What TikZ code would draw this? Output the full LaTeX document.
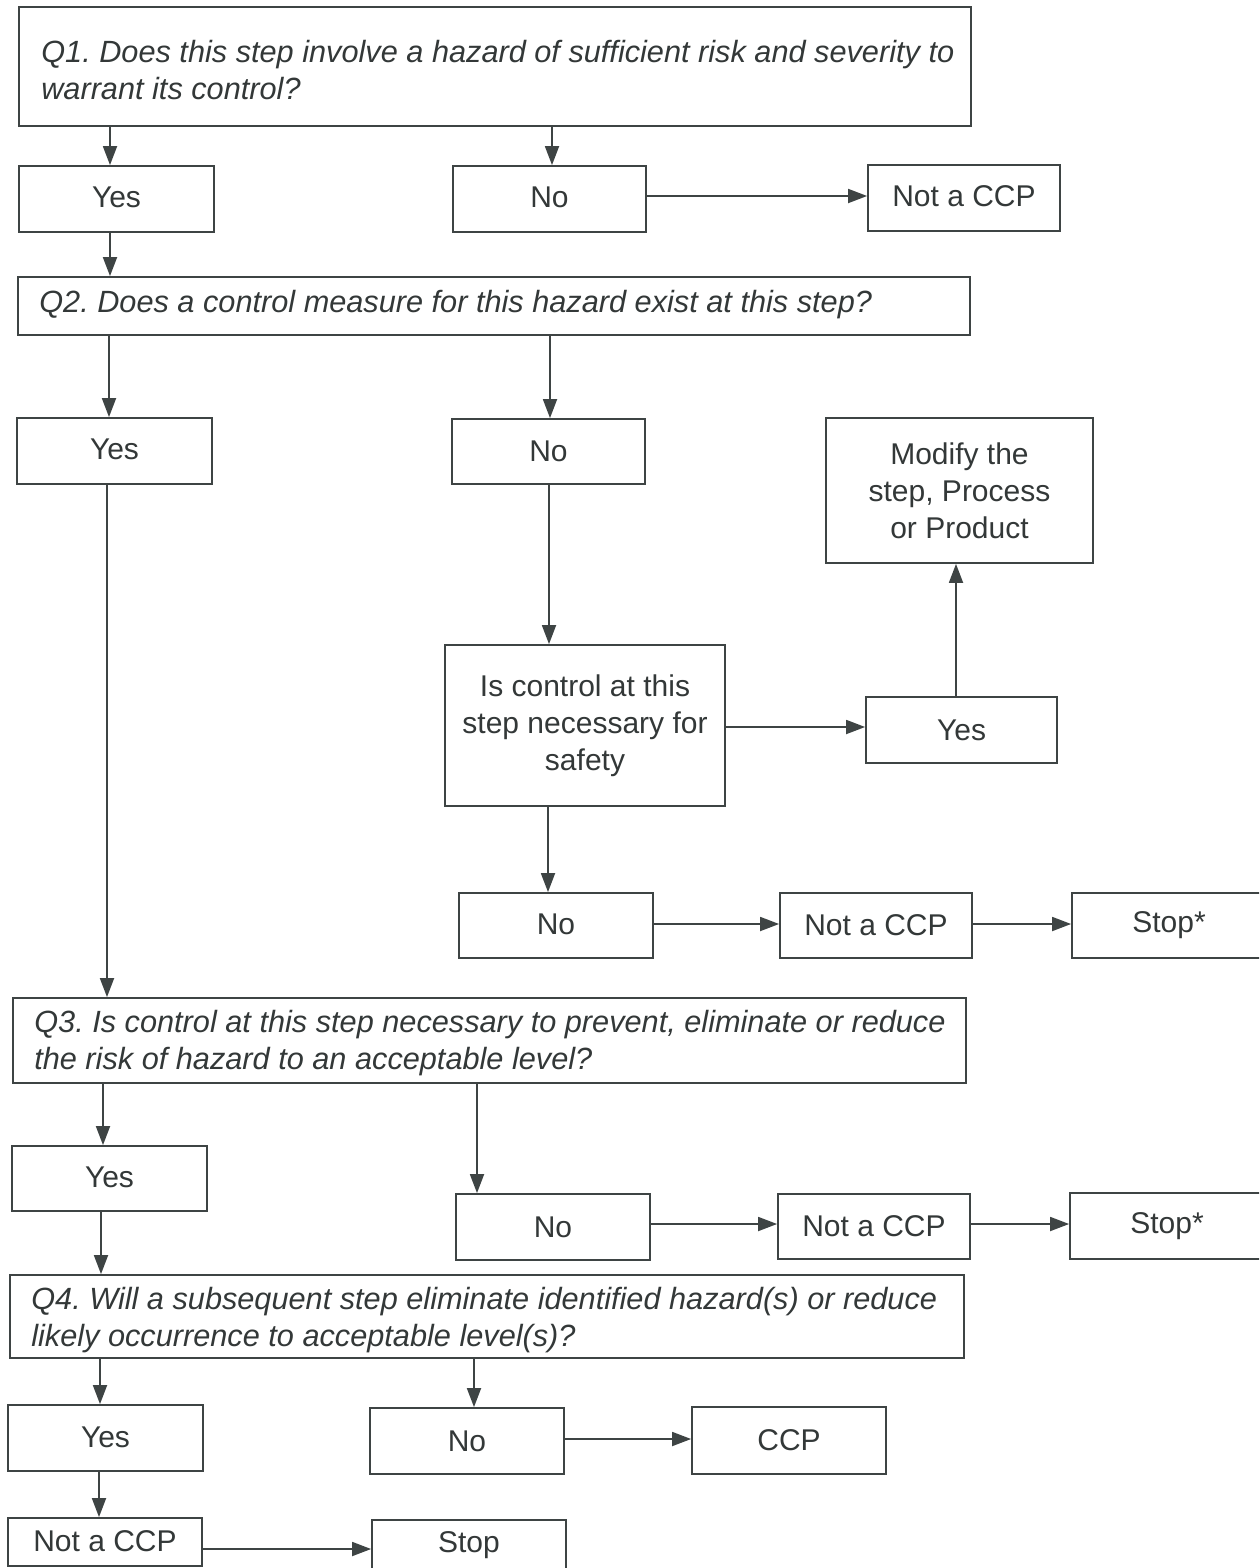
\documentclass[tikz,border=0pt]{standalone}
\usepackage{fontspec}
\setmainfont{Liberation Sans}
\usetikzlibrary{arrows.meta}
\definecolor{lc}{HTML}{3E4444}
\definecolor{tc}{HTML}{333838}
\tikzset{
  box/.style={draw=lc, line width=1.8pt, inner sep=0pt, text=tc,
    font=\fontsize{30}{37}\selectfont, align=center},
  qtext/.style={inner sep=0pt, text=tc, align=left,
    font=\fontsize{30.7}{37}\selectfont\itshape},
  arr/.style={draw=lc, line width=1.8pt, -{Triangle[length=19pt,width=14pt]}}
}
\newcommand{\bx}[6]{% name, x1, y1, x2, y2, text
  \node[box, minimum width=#4pt-#2pt, minimum height=#5pt-#3pt] (#1)
    at ({(#2+#4)/2},{(#3+#5)/2}) {#6};}
\newcommand{\up}[2]{\raisebox{#1pt}{#2}}
\begin{document}
\frenchspacing
\begin{tikzpicture}[x=1pt,y=-1pt]
\useasboundingbox (0,0) rectangle (1259,1568);
\clip (0,0) rectangle (1259,1568);
\fill[white] (0,0) rectangle (1259,1568);

% Q1 row
\bx{q1}{19}{7}{971}{126}{}
\node[qtext, anchor=west] (q1t) at ([xshift=23pt,yshift=-4pt]q1.west)
  {Q1. Does this step involve a hazard of sufficient risk and severity to\\warrant its control?};
\bx{yes1}{19}{166}{214}{232}{\up{4}{Yes}}
\bx{no1}{453}{166}{646}{232}{\up{3}{No}}
\bx{ncp1}{868}{165}{1060}{231}{\up{4}{Not a CCP}}

% Q2
\bx{q2}{18}{277}{970}{335}{}
\node[qtext, anchor=west] (q2t) at ([xshift=22pt,yshift=1pt]q2.west)
  {Q2. Does a control measure for this hazard exist at this step?};
\bx{yes2}{17}{418}{212}{484}{\up{4}{Yes}}
\bx{no2}{452}{419}{645}{484}{\up{-3}{No}}
\bx{mod}{826}{418}{1093}{563}{Modify the\\step, Process\\or Product}
\bx{isc}{445}{645}{725}{806}{Is control at this\\step necessary for\\safety}
\bx{yes3}{866}{697}{1057}{763}{Yes}
\bx{no3}{459}{893}{653}{958}{\up{2}{No}}
\bx{ncp3}{780}{893}{972}{958}{Not a CCP}
\bx{stop3}{1072}{893}{1266}{958}{\up{-2}{Stop*}}

% Q3
\bx{q3}{13}{998}{966}{1083}{}
\node[qtext, anchor=west] (q3t) at ([xshift=22pt,yshift=-3pt]q3.west)
  {Q3. Is control at this step necessary to prevent, eliminate or reduce\\the risk of hazard to an acceptable level?};
\bx{yes4}{12}{1146}{207}{1211}{\up{2}{Yes}}
\bx{no4}{456}{1194}{650}{1260}{No}
\bx{ncp4}{778}{1194}{970}{1259}{Not a CCP}
\bx{stop4}{1070}{1193}{1264}{1259}{Stop*}

% Q4
\bx{q4}{10}{1275}{964}{1358}{}
\node[qtext, anchor=west] (q4t) at ([xshift=22pt,yshift=-4pt]q4.west)
  {Q4. Will a subsequent step eliminate identified hazard(s) or reduce\\likely occurrence to acceptable level(s)?};
\bx{yes5}{8}{1405}{203}{1471}{\up{2}{Yes}}
\bx{no5}{370}{1408}{564}{1474}{No}
\bx{ccp}{692}{1407}{886}{1474}{CCP}
\bx{ncp6}{8}{1518}{202}{1566}{\up{2}{Not a CCP}}
\bx{stop6}{372}{1520}{566}{1570}{Stop}

% helper coordinates for arrow columns and rows
\coordinate (c1) at (110,0);
\coordinate (c2) at (552,0);
\coordinate (c3) at (109,0);
\coordinate (c4) at (550,0);
\coordinate (c5) at (549,0);
\coordinate (c6) at (107,0);
\coordinate (c7) at (548,0);
\coordinate (c8) at (956,0);
\coordinate (c9) at (103,0);
\coordinate (c10) at (477,0);
\coordinate (c11) at (101,0);
\coordinate (c12) at (100,0);
\coordinate (c13) at (474,0);
\coordinate (c14) at (99,0);
\coordinate (r0) at (0,196);
\coordinate (r1) at (0,727);
\coordinate (r3) at (0,924);
\coordinate (r4) at (0,1224);
\coordinate (r5) at (0,1439);
\coordinate (r2) at (0,1549);

% connectors
\draw[arr] (q1.south -| c1) -- (yes1.north -| c1);
\draw[arr] (q1.south -| c2) -- (no1.north -| c2);
\draw[arr] (no1.east |- r0) -- (ncp1.west |- r0);
\draw[arr] (yes1.south -| c1) -- (q2.north -| c1);
\draw[arr] (q2.south -| c3) -- (yes2.north -| c3);
\draw[arr] (q2.south -| c4) -- (no2.north -| c4);
\draw[arr] (no2.south -| c5) -- (isc.north -| c5);
\draw[arr] (isc.east |- r1) -- (yes3.west |- r1);
\draw[arr] (yes3.north -| c8) -- (mod.south -| c8);
\draw[arr] (isc.south -| c7) -- (no3.north -| c7);
\draw[arr] (no3.east |- r3) -- (ncp3.west |- r3);
\draw[arr] (ncp3.east |- r3) -- (stop3.west |- r3);
\draw[arr] (yes2.south -| c6) -- (q3.north -| c6);
\draw[arr] (q3.south -| c9) -- (yes4.north -| c9);
\draw[arr] (q3.south -| c10) -- (no4.north -| c10);
\draw[arr] (no4.east |- r4) -- (ncp4.west |- r4);
\draw[arr] (ncp4.east |- r4) -- (stop4.west |- r4);
\draw[arr] (yes4.south -| c11) -- (q4.north -| c11);
\draw[arr] (q4.south -| c12) -- (yes5.north -| c12);
\draw[arr] (q4.south -| c13) -- (no5.north -| c13);
\draw[arr] (no5.east |- r5) -- (ccp.west |- r5);
\draw[arr] (yes5.south -| c14) -- (ncp6.north -| c14);
\draw[arr] (ncp6.east |- r2) -- (stop6.west |- r2);
\end{tikzpicture}
\end{document}
